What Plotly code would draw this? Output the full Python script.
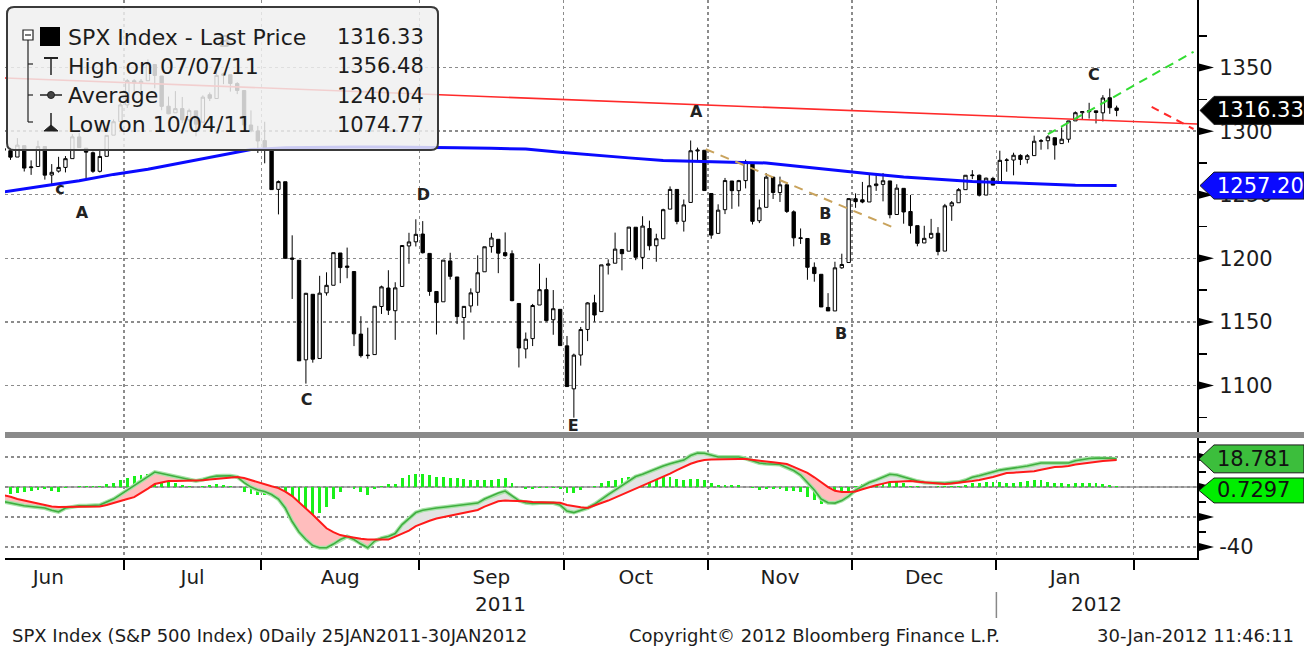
import numpy as np
import plotly.graph_objects as go

# ---------------- data ----------------
month_names = ["Jun", "Jul", "Aug", "Sep", "Oct", "Nov", "Dec", "Jan"]
month_days = [22, 20, 23, 21, 21, 21, 21, 20]          # trading days per month
year_labels = ["2011", "2012"]

opens = [
    1345.20,1314.55,1312.94,1300.26,1286.31,1284.63,1279.63,1288.60,1271.31,1272.22,1287.87,1265.53,1268.58,1271.50,1278.40,1295.48,1286.60,1283.04,1268.44,1280.21,1296.85,1307.64,
    1320.64,1339.59,1337.56,1339.62,1352.39,1343.31,1319.61,1314.45,1317.74,1308.87,1315.94,1307.07,1328.66,1325.65,1343.80,1344.32,1337.39,1331.91,1304.84,1300.12,
    1292.59,1286.56,1254.25,1260.23,1200.28,1198.48,1120.23,1171.77,1121.30,1172.87,1178.86,1204.22,1192.89,1189.62,1140.47,1123.55,1124.36,1162.16,1176.69,1158.85,1177.91,1209.76,1213.00,
    1219.12,1203.90,1173.97,1165.85,1197.98,1185.37,1153.50,1162.59,1173.32,1189.44,1209.21,1214.99,1204.50,1203.63,1164.55,1128.82,1136.91,1163.32,1175.39,1151.74,1159.93,
    1131.21,1097.42,1124.03,1144.11,1165.03,1158.15,1194.60,1196.19,1206.96,1205.65,1224.47,1200.75,1223.46,1209.92,1215.39,1238.72,1254.19,1229.17,1243.97,1284.39,1284.96,
    1251.00,1219.62,1238.25,1260.82,1253.21,1261.12,1275.18,1229.59,1240.12,1263.85,1251.70,1257.81,1236.56,1216.19,1215.62,1192.98,1187.48,1161.41,1158.67,1192.56,1196.72,
    1246.91,1246.03,1244.33,1257.19,1258.14,1260.87,1234.48,1255.05,1236.83,1225.73,1212.12,1216.09,1219.74,1205.72,1241.25,1243.72,1254.00,1265.02,1265.38,1249.75,1262.82,
    1258.86,1277.03,1277.30,1280.93,1277.83,1280.77,1292.02,1292.48,1294.82,1290.22,1293.65,1308.07,1314.49,1315.29,1315.96,1314.40,1326.28,1318.25,
]
highs = [
    1345.20,1318.03,1312.94,1300.26,1296.22,1287.04,1294.54,1288.60,1277.04,1292.50,1287.87,1274.11,1279.82,1280.42,1297.62,1298.61,1286.60,1283.93,1284.91,1296.80,1309.21,1321.97,
    1341.01,1340.89,1340.94,1356.48,1352.39,1343.31,1327.17,1331.48,1326.88,1317.70,1315.94,1328.14,1330.43,1347.00,1346.10,1344.32,1338.51,1331.91,1316.32,1304.16,
    1307.38,1286.56,1261.20,1260.23,1218.11,1198.48,1172.88,1171.77,1186.29,1189.04,1204.49,1204.22,1208.47,1189.62,1154.54,1145.49,1162.35,1178.56,1190.68,1181.23,1210.28,1220.10,1230.71,
    1229.29,1203.90,1173.97,1198.62,1204.40,1185.37,1162.52,1176.41,1202.38,1209.11,1220.06,1214.99,1220.39,1206.30,1164.55,1141.72,1164.19,1195.86,1184.71,1175.09,1159.93,
    1138.99,1125.12,1146.07,1165.55,1171.40,1194.91,1199.24,1220.25,1207.46,1224.61,1224.47,1233.10,1229.64,1219.36,1239.03,1256.55,1254.19,1246.28,1292.66,1287.08,1284.96,
    1251.00,1242.48,1263.21,1260.82,1261.70,1277.55,1275.18,1246.22,1266.98,1263.85,1264.25,1259.61,1237.73,1223.51,1215.62,1196.81,1187.48,1172.66,1197.35,1203.67,1247.11,
    1251.09,1260.08,1266.73,1266.03,1267.06,1260.87,1258.25,1255.05,1249.86,1225.73,1225.60,1231.04,1224.57,1242.82,1245.09,1255.22,1265.42,1269.37,1265.85,1263.54,1264.12,
    1284.62,1278.73,1283.05,1281.84,1281.99,1296.46,1293.80,1296.82,1294.82,1303.00,1308.11,1315.49,1315.38,1322.28,1315.96,1328.30,1333.47,1320.06,
]
lows = [
    1313.71,1305.61,1297.90,1284.72,1284.74,1277.42,1279.63,1268.28,1265.64,1272.22,1261.90,1258.07,1267.40,1267.56,1278.40,1286.79,1262.87,1267.24,1267.53,1280.21,1296.85,1307.64,
    1318.18,1330.92,1330.92,1339.62,1333.71,1316.42,1313.33,1314.45,1306.51,1307.35,1295.92,1307.07,1323.65,1325.65,1336.95,1331.09,1329.10,1303.49,1299.16,1282.86,
    1274.73,1254.03,1234.56,1199.54,1168.09,1119.28,1101.54,1118.01,1121.30,1170.74,1178.86,1180.53,1184.36,1131.03,1122.05,1121.09,1124.36,1156.30,1155.47,1135.91,1177.91,1195.77,1209.35,
    1203.85,1170.56,1140.13,1165.85,1183.34,1148.37,1136.07,1157.44,1162.73,1189.44,1204.46,1188.36,1201.29,1166.21,1114.22,1121.36,1131.07,1163.32,1150.40,1139.93,1131.34,
    1098.92,1074.77,1115.68,1134.95,1150.26,1158.15,1187.30,1196.19,1190.58,1205.65,1198.55,1191.48,1206.31,1197.34,1215.39,1238.72,1226.79,1221.06,1243.97,1277.01,1253.16,
    1215.42,1219.62,1234.81,1238.92,1240.75,1254.99,1226.64,1227.70,1240.12,1246.68,1244.34,1235.67,1209.43,1211.36,1183.16,1181.65,1161.79,1158.66,1158.67,1191.80,1196.72,
    1239.73,1243.35,1244.33,1253.03,1244.80,1231.47,1234.48,1227.25,1219.43,1209.47,1212.12,1215.20,1202.37,1205.72,1229.51,1243.72,1254.00,1262.30,1248.64,1249.75,1257.46,
    1258.86,1268.10,1265.26,1273.34,1274.55,1280.77,1285.41,1285.77,1277.58,1290.22,1290.99,1308.07,1309.17,1309.89,1306.06,1307.65,1313.60,1311.72,
]
closes = [
    1314.55,1312.94,1300.16,1286.17,1284.94,1279.56,1289.00,1270.98,1271.83,1287.87,1265.42,1267.64,1271.50,1278.36,1295.52,1287.14,1283.50,1268.45,1280.10,1296.67,1307.41,1320.64,
    1339.67,1337.88,1339.22,1353.22,1343.80,1319.49,1313.64,1317.72,1308.87,1316.14,1305.44,1326.73,1325.84,1343.80,1345.02,1337.43,1331.94,1304.89,1300.67,1292.28,
    1286.94,1254.05,1260.34,1200.07,1199.38,1119.46,1172.53,1120.76,1172.64,1178.81,1204.49,1192.76,1193.89,1140.65,1123.53,1123.82,1162.35,1177.60,1159.27,1176.80,1210.08,1212.92,1218.89,
    1204.42,1173.97,1165.24,1198.62,1185.90,1154.23,1162.27,1172.87,1188.68,1209.11,1216.01,1204.09,1202.09,1166.76,1129.56,1136.43,1162.95,1175.38,1151.06,1160.40,1131.42,
    1099.23,1123.95,1144.03,1164.97,1155.46,1194.89,1195.54,1207.25,1203.66,1224.58,1200.86,1225.38,1209.88,1215.39,1238.25,1254.19,1229.05,1242.00,1284.59,1285.09,1253.30,
    1218.28,1237.90,1261.15,1253.23,1261.12,1275.92,1229.10,1239.69,1263.85,1251.78,1257.81,1236.91,1216.13,1215.65,1192.98,1188.04,1161.79,1158.67,1192.55,1195.19,1246.96,
    1244.58,1244.28,1257.08,1258.47,1261.01,1234.35,1255.19,1236.47,1225.73,1211.82,1215.75,1219.66,1205.35,1241.30,1243.72,1254.00,1265.33,1265.43,1249.64,1263.02,1257.60,
    1277.06,1277.30,1281.06,1277.81,1280.70,1292.08,1292.48,1295.50,1289.09,1293.67,1308.04,1314.50,1315.38,1316.00,1314.65,1326.06,1318.43,1316.33,
]

# 200-day moving average (read every 5 trading days)
ma_idx = [0,4,10,15,20,25,30,35,40,45,50,55,60,65,70,75,80,85,90,95,100,105,110,115,120,125,130,135,140,145,150,155,160,166]
ma_val = [1249,1252,1257,1261,1266,1270,1275,1280,1285.5,1287,1287.5,1287.5,1287.5,1287.5,1287,1286.5,1286,1283.5,1281,1279,1277,1276,1275.5,1275,1272,1269,1266.5,1264,1262,1260.5,1259.5,1258.5,1257.5,1257.20]

# MACD (green) and signal (red), daily
macd = [
    -6,-7,-8,-9,-10,-11,-12,-12.5,-13,-13.5,-14,-15.5,-16.5,-14,-13,-12.5,-12.5,-12,-12,-10,-8,-5,
    -2,1,4,7.5,10,9,8,7,5.5,4.5,4,5,6.5,7.3,7.5,7.5,6.7,3,0,-2,
    -3,-5,-8,-14,-23,-30,-35,-39,-40.5,-40.5,-38,-35,-33,-35,-38,-40.5,-36,-34,-33,-31,-25,-21,-17,
    -15.5,-14.5,-14,-13.5,-13,-12,-11.5,-11,-10.7,-8,-6,-4,-2.7,-6,-9,-10.5,-11,-10.7,-10.5,-10.7,-12,
    -16,-17,-15.5,-14,-11.5,-8,-5,-2,1,4,7,8.5,10.5,12.5,14,15.5,16.5,18,21,22.7,22.5,
    21,20,20,20,20,19,17.5,16,15.5,15.3,15,13,11,8,3,-2,-8,-10.5,-10.7,-9,-6,
    -2,0.5,3,4.7,6.5,8.5,8,6.5,5,4,3,2.7,2.7,2.5,3,3.3,4.5,6.5,7.5,9,10,
    11.3,12,12.5,13,14,15,16,16,16,16,16,17.5,18.5,19,19.3,19.3,19.3,18.781,
]
signal = [
    -1.5,-2.5,-3.3,-4,-5,-6.5,-8,-9,-10.5,-11.5,-12.5,-13,-13.3,-13.3,-13.3,-13.2,-13,-13,-13,-12,-10.5,-9.5,
    -8,-6.7,-4,-1,2,3,4,4,4,4,4,4.5,5,5.5,6,6.5,6.7,6,4.5,3.3,
    2,0.5,-0.7,-3,-6,-10,-14,-18.5,-23,-27.5,-30,-32,-33,-34,-34.5,-35,-35,-35,-35,-33,-31,-29,-26,
    -24,-22.5,-21,-20,-19,-18,-17,-16,-15.3,-13,-11,-9.5,-9,-9,-9,-9.5,-10,-10,-10,-10,-10.5,
    -12,-13,-13.5,-14,-12.5,-11,-9,-7,-5,-3,-1,0.5,2.5,4.5,7,9,11.3,13.5,15.5,17,18,
    18.3,18.5,18.7,18.7,18.7,18.7,18.3,17.8,17,16.5,16,15.3,13.5,11.5,9.5,6.5,3,0,-2.5,-3.3,-3.3,
    -3,-1.5,0,1.2,2.3,3.3,3.6,3.9,4,3.6,3.1,2.6,2.3,2,2.3,2.7,3.3,4,4.7,5.5,6.7,
    8,9.3,9.6,9.8,10,10.5,11.5,12.5,13.3,13.6,14,15,15.7,16.2,16.8,17.3,17.7,18.0513,
]
hist_last = 0.7297

legend_labels = ["SPX Index - Last Price", "High on 07/07/11", "Average", "Low on 10/04/11"]
legend_values = [1316.33, 1356.48, 1240.04, 1074.77]

# chart annotations: (text, trading-day index, price)
wave_text = ["c", "A", "B", "C", "D", "E", "A", "B", "B", "B", "C"]
wave_x = [12.2, 15.4, 36.2, 48.1, 65.1, 86.9, 104.8, 123.6, 123.6, 125.9, 162.7]
wave_y = [1253.8, 1234.9, 1369.3, 1087.9, 1249.1, 1067.5, 1314.3, 1234.0, 1213.7, 1139.8, 1343.4]

# drawn trend lines (index, price)
red_trend_x, red_trend_y = [0, 178], [1342.7, 1305.6]
red_dash_x, red_dash_y = [171.1, 177.2], [1319.0, 1301.7]
green_dash_x, green_dash_y = [156.0, 177.2], [1297.6, 1362.4]
tan_dash_x, tan_dash_y = [106.2, 133.9], [1285.8, 1223.4]

price_ticks = [1100, 1150, 1200, 1250, 1300, 1350]
macd_ticks = [-40, -20, 0, 20]

# ---------------- derived ----------------
n = len(closes)
xi = list(range(n))
bounds = np.cumsum(month_days) - 0.5
starts = bounds - np.array(month_days)
centers = (starts + bounds) / 2
XR = [4.2, 177.7]

FONT = "DejaVu Sans"
TXT = "#1c1c1c"

# pixel helpers for paper-positioned decorations (plot area 5..1197 x 0..558)
def px(x):
    return (x - 5) / 1192.0

def py(y):
    return (558 - y) / 558.0

fig = go.Figure()

# ---------- lower panel: fills ----------
def regions(xs, g, r):
    out = []
    cx, cg, cr = [xs[0]], [g[0]], [r[0]]
    for i in range(len(xs) - 1):
        d0, d1 = g[i] - r[i], g[i + 1] - r[i + 1]
        if d0 * d1 < 0:
            t = d0 / (d0 - d1)
            xc = xs[i] + t * (xs[i + 1] - xs[i])
            yc = g[i] + t * (g[i + 1] - g[i])
            cx.append(xc); cg.append(yc); cr.append(yc)
            out.append((cx, cg, cr, d0 > 0))
            cx, cg, cr = [xc], [yc], [yc]
        cx.append(xs[i + 1]); cg.append(g[i + 1]); cr.append(r[i + 1])
    dl = g[-1] - r[-1]
    out.append((cx, cg, cr, dl > 0))
    return out

for cx, cg, cr, up in regions(xi, macd, signal):
    fig.add_trace(go.Scatter(
        x=cx + cx[::-1], y=cg + cr[::-1], fill="toself",
        fillcolor="#e3e3e3" if up else "#ffbdbd", line=dict(width=0),
        mode="lines", xaxis="x", yaxis="y", hoverinfo="skip"))

hist = [m - s for m, s in zip(macd, signal)]
fig.add_trace(go.Bar(x=xi, y=hist, width=0.42, marker=dict(color="#19f019", line=dict(width=0)),
                     xaxis="x", yaxis="y", hoverinfo="skip"))
fig.add_trace(go.Scatter(x=xi, y=macd, mode="lines", line=dict(color="#a6e3a6", width=4),
                         xaxis="x", yaxis="y", hoverinfo="skip"))
fig.add_trace(go.Scatter(x=xi, y=macd, mode="lines", line=dict(color="#3fae3f", width=1.6),
                         xaxis="x", yaxis="y", hoverinfo="skip"))
fig.add_trace(go.Scatter(x=xi, y=signal, mode="lines", line=dict(color="#ff1a1a", width=2),
                         xaxis="x", yaxis="y", hoverinfo="skip"))

# ---------- upper panel ----------
fig.add_trace(go.Candlestick(
    x=xi, open=opens, high=highs, low=lows, close=closes,
    increasing=dict(line=dict(color="black", width=1), fillcolor="white"),
    decreasing=dict(line=dict(color="black", width=1), fillcolor="black"),
    whiskerwidth=0, xaxis="x2", yaxis="y2", hoverinfo="skip"))

fig.add_trace(go.Scatter(x=red_trend_x, y=red_trend_y, mode="lines",
                         line=dict(color="#ff2a2a", width=1.6), xaxis="x2", yaxis="y2"))
fig.add_trace(go.Scatter(x=ma_idx, y=ma_val, mode="lines",
                         line=dict(color="#0a0aff", width=3), xaxis="x2", yaxis="y2"))
fig.add_trace(go.Scatter(x=red_dash_x, y=red_dash_y, mode="lines",
                         line=dict(color="#ff2a2a", width=2, dash="8px,6px"), xaxis="x2", yaxis="y2"))
fig.add_trace(go.Scatter(x=green_dash_x, y=green_dash_y, mode="lines",
                         line=dict(color="#33dd33", width=2, dash="9px,6px"), xaxis="x2", yaxis="y2"))
fig.add_trace(go.Scatter(x=tan_dash_x, y=tan_dash_y, mode="lines",
                         line=dict(color="#c9a35c", width=2, dash="9px,7px"), xaxis="x2", yaxis="y2"))
fig.add_trace(go.Scatter(x=wave_x, y=wave_y, mode="text", text=["<b>%s</b>" % t for t in wave_text],
                         textfont=dict(family=FONT, size=16, color="#222222"),
                         textposition="middle center", xaxis="x2", yaxis="y2", cliponaxis=True))

shapes = []
annotations = []

# zero line of lower panel
shapes.append(dict(type="line", xref="paper", yref="y", x0=0, x1=1, y0=0, y1=0,
                   line=dict(color="#b2b2b2", width=2), layer="below"))
# separator bar
shapes.append(dict(type="rect", xref="paper", yref="paper", x0=px(5), x1=px(1304),
                   y0=py(438), y1=py(432), fillcolor="#8a8a8a", line=dict(width=0), layer="above"))

# axis tick triangles
def tri(yref, v, dh):
    return dict(type="path", xref="paper", yref=yref,
                path="M %f,%f L %f,%f L %f,%f Z" % (px(1198), v + dh, px(1198), v - dh, px(1214), v),
                fillcolor="black", line=dict(width=0), layer="above")

for v in price_ticks:
    shapes.append(tri("y2", v, 3.3))
for v in macd_ticks:
    shapes.append(tri("y", v, 2.8))

# value tags
def tag(yref, v, h, color, text, tcolor, tip=1200, body=1214, right=1304):
    shapes.append(dict(type="path", xref="paper", yref=yref,
                       path="M %f,%f L %f,%f L %f,%f L %f,%f L %f,%f Z" % (
                           px(tip), v, px(body), v + h, px(right), v + h, px(right), v - h, px(body), v - h),
                       fillcolor=color, line=dict(color="#1a1a1a", width=1), layer="above"))
    annotations.append(dict(xref="paper", yref=yref, x=px(body + 1), y=v, text=text, showarrow=False,
                            xanchor="left", yanchor="middle",
                            font=dict(family=FONT, size=21, color=tcolor)))

tag("y2", closes[-1], 11.0, "#000000", "%.2f" % closes[-1], "white")
tag("y2", ma_val[-1], 10.6, "#0a0aff", "%.2f" % ma_val[-1], "white")
tag("y", macd[-1], 9.3, "#3cbe3c", "%.3f" % macd[-1], "#111111", tip=1199)
tag("y", hist_last - 3.0, 8.3, "#00ee00", "%.4f" % hist_last, "#111111", tip=1199)

# legend box (rounded, semi-transparent)
x0, y0, x1, y1, r = 7, 7, 438, 150, 7
lp = ("M {a},{b} L {c},{b} Q {d},{b} {d},{e} L {d},{f} Q {d},{g} {c},{g} L {a},{g} Q {h},{g} {h},{f} "
      "L {h},{e} Q {h},{b} {a},{b} Z").format(
    a=px(x0 + r), b=py(y0), c=px(x1 - r), d=px(x1), e=py(y0 + r), f=py(y1 - r), g=py(y1), h=px(x0))
shapes.append(dict(type="path", xref="paper", yref="paper", path=lp,
                   fillcolor="rgba(240,240,240,0.84)", line=dict(color="#3a3a3a", width=2), layer="above"))

def pline(xa, ya, xb, yb, w=1.5, c="#222222"):
    shapes.append(dict(type="line", xref="paper", yref="paper", x0=px(xa), y0=py(ya), x1=px(xb), y1=py(yb),
                       line=dict(color=c, width=w), layer="above"))

# collapse icon and tree
shapes.append(dict(type="rect", xref="paper", yref="paper", x0=px(23), x1=px(33), y0=py(40), y1=py(30),
                   fillcolor="white", line=dict(color="#222222", width=1.2), layer="above"))
pline(25, 35, 31, 35, 1.2)
pline(28, 40, 28, 122, 1.2)
pline(28, 64, 33, 64, 1.2)
pline(28, 95, 33, 95, 1.2)
pline(28, 122, 33, 122, 1.2)
# black square
shapes.append(dict(type="rect", xref="paper", yref="paper", x0=px(40), x1=px(60), y0=py(46), y1=py(27),
                   fillcolor="black", line=dict(width=0), layer="above"))
# high icon
pline(44, 58, 58, 58, 2)
pline(51, 58, 51, 75, 1.5)
# average icon
pline(40, 95, 62, 95, 1.5)
shapes.append(dict(type="circle", xref="paper", yref="paper", x0=px(47.5), x1=px(54.5), y0=py(98.5), y1=py(91.5),
                   fillcolor="#444444", line=dict(color="#222222", width=1), layer="above"))
# low icon
pline(51, 113, 51, 130, 1.5)
shapes.append(dict(type="path", xref="paper", yref="paper",
                   path="M %f,%f L %f,%f L %f,%f Z" % (px(44), py(131), px(58), py(131), px(51), py(125)),
                   fillcolor="#222222", line=dict(color="#222222", width=1), layer="above"))

row_y = [37, 66, 96, 125]
for lab, val, yy in zip(legend_labels, legend_values, row_y):
    annotations.append(dict(xref="paper", yref="paper", x=px(66), y=py(yy), text=lab, showarrow=False,
                            xanchor="left", yanchor="middle", font=dict(family=FONT, size=22, color=TXT)))
    annotations.append(dict(xref="paper", yref="paper", x=px(426), y=py(yy), text="%.2f" % val, showarrow=False,
                            xanchor="right", yanchor="middle", font=dict(family=FONT, size=21, color=TXT)))

# year labels and year separator
year_bounds = [XR[0], bounds[6], XR[1]]
for i, yl in enumerate(year_labels):
    annotations.append(dict(xref="x", yref="paper", x=(year_bounds[i] + year_bounds[i + 1]) / 2, y=py(604),
                            text=yl, showarrow=False, xanchor="center", yanchor="middle",
                            font=dict(family=FONT, size=20, color=TXT)))
shapes.append(dict(type="line", xref="x", yref="paper", x0=bounds[6], x1=bounds[6], y0=py(592), y1=py(618),
                   line=dict(color="#888888", width=1.5)))

# footer
foot = dict(family=FONT, size=18, color=TXT)
annotations.append(dict(xref="paper", yref="paper", x=px(10), y=py(636), xanchor="left", yanchor="middle",
                        text="SPX Index (S&P 500 Index) 0Daily 25JAN2011-30JAN2012", showarrow=False, font=foot))
annotations.append(dict(xref="paper", yref="paper", x=px(627), y=py(636), xanchor="left", yanchor="middle",
                        text="Copyright© 2012 Bloomberg Finance L.P.", showarrow=False, font=foot))
annotations.append(dict(xref="paper", yref="paper", x=px(1296), y=py(636), xanchor="right", yanchor="middle",
                        text="30-Jan-2012 11:46:11", showarrow=False, font=foot))

grid = dict(gridcolor="#8c8c8c", griddash="3px,3px", gridwidth=1.4)
tickfont = dict(family=FONT, size=21, color=TXT)

fig.update_layout(
    width=1304, height=650,
    margin=dict(l=5, r=107, t=0, b=92, pad=0),
    paper_bgcolor="white", plot_bgcolor="white",
    showlegend=False, hovermode=False,
    xaxis=dict(domain=[0, 1], anchor="y", range=XR, tickmode="array", tickvals=list(centers),
               ticktext=month_names, ticks="", showgrid=False, zeroline=False,
               showline=True, linecolor="black", linewidth=2,
               tickfont=dict(family=FONT, size=20, color=TXT), ticklabelstandoff=0,
               rangeslider=dict(visible=False),
               minor=dict(tickmode="array", tickvals=list(bounds), ticks="outside", ticklen=10,
                          tickwidth=2, tickcolor="black", showgrid=True, **grid)),
    xaxis2=dict(domain=[0, 1], anchor="y2", range=XR, tickmode="array", tickvals=list(centers),
                showticklabels=False, ticks="", showgrid=False, zeroline=False, showline=False,
                rangeslider=dict(visible=False),
                minor=dict(tickmode="array", tickvals=list(bounds), ticks="", showgrid=True, **grid)),
    yaxis=dict(domain=[0, 120 / 558], anchor="x", side="right", range=[-47.3, 32.7],
               tickmode="array", tickvals=macd_ticks, ticktext=["-40", "", "", ""],
               showgrid=True, **grid, zeroline=False, showline=True, linecolor="black", linewidth=2,
               ticks="outside", ticklen=16, tickcolor="rgba(0,0,0,0)", tickfont=tickfont,
               minor=dict(tickmode="array", tickvals=[-30, -10, 10, 30], ticks="outside", ticklen=7,
                          tickwidth=1.5, tickcolor="black", showgrid=False)),
    yaxis2=dict(domain=[126 / 558, 1], anchor="x2", side="right", range=[1063.5, 1403.1],
                tickmode="array", tickvals=price_ticks, ticktext=[str(v) for v in price_ticks],
                showgrid=True, **grid, zeroline=False, showline=True, linecolor="black", linewidth=2,
                ticks="outside", ticklen=16, tickcolor="rgba(0,0,0,0)", tickfont=tickfont,
                minor=dict(tickmode="array", tickvals=[1075, 1125, 1175, 1225, 1275, 1325, 1375],
                           ticks="outside", ticklen=8, tickwidth=1.5, tickcolor="black", showgrid=False)),
    shapes=shapes,
    annotations=annotations,
    bargap=0,
)

fig.write_html("out.html", config={"displayModeBar": False, "staticPlot": True},
               post_script="document.body.style.margin='0px';document.body.style.overflow='hidden';")
